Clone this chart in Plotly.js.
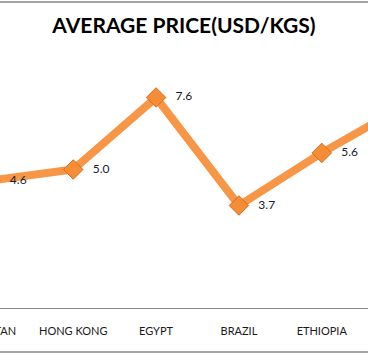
<!DOCTYPE html>
<html>
<head>
<meta charset="utf-8">
<script src="https://cdn.plot.ly/plotly-3.0.1.min.js"></script>
<style>
html,body{margin:0;padding:0;width:368px;height:354px;overflow:hidden;background:#fff;}
#chart{position:absolute;left:-51px;top:0;width:497px;height:354px;}
</style>
</head>
<body>
<div id="chart"></div>
<script>
// Data (chart is a cropped view: first and last categories fall partly outside the frame)
const countries = ['PAKISTAN', 'HONG KONG', 'EGYPT', 'BRAZIL', 'ETHIOPIA', 'INDIA'];
const avgPrice = [4.6, 5.0, 7.6, 3.7, 5.6, 7.3];
const chartTitle = 'AVERAGE PRICE(USD/KGS)';

const trace = {
  x: countries,
  y: avgPrice,
  type: 'scatter',
  mode: 'lines+markers+text',
  line: {color: '#F79646', width: 8},
  marker: {
    symbol: 'diamond',
    size: 15,
    color: '#F58C36',
    line: {color: '#D66E1E', width: 1}
  },
  text: avgPrice.map(v => '\u2002 ' + v.toFixed(1)),
  textposition: 'middle right',
  textfont: {family: 'Lato, "Open Sans", sans-serif', size: 12, color: '#1a1a2a'},
  cliponaxis: false,
  hoverinfo: 'skip'
};

const layout = {
  width: 497,
  height: 354,
  margin: {l: 0, r: 0, t: 40, b: 46},
  paper_bgcolor: '#ffffff',
  plot_bgcolor: '#ffffff',
  showlegend: false,
  title: {
    text: '<b>' + chartTitle + '</b>',
    font: {family: 'Lato, "Open Sans", sans-serif', size: 21, color: '#000000'},
    x: 0.4728, xref: 'paper', xanchor: 'center',
    y: 0.927, yref: 'container', yanchor: 'middle'
  },
  xaxis: {
    type: 'category',
    range: [-0.5, 5.5],
    showgrid: false,
    zeroline: false,
    showline: true,
    linecolor: '#868686',
    linewidth: 1,
    ticks: '',
    ticklabelstandoff: 13,
    tickfont: {family: 'Lato, "Open Sans", sans-serif', size: 11, color: '#1a1a1a'},
    fixedrange: true
  },
  yaxis: {
    range: [0, 9.675],
    showgrid: false,
    zeroline: false,
    showline: false,
    showticklabels: false,
    ticks: '',
    fixedrange: true
  },
  shapes: [
    {type: 'line', xref: 'paper', yref: 'paper', x0: -0.1, x1: 1.1, y0: 1.1418, y1: 1.1418,
     line: {color: '#868686', width: 1.5}},
    {type: 'line', xref: 'paper', yref: 'paper', x0: -0.1, x1: 1.1, y0: -0.1642, y1: -0.1642,
     line: {color: '#868686', width: 1.5}}
  ]
};

Plotly.newPlot('chart', [trace], layout, {staticPlot: true, displayModeBar: false});
</script>
</body>
</html>
